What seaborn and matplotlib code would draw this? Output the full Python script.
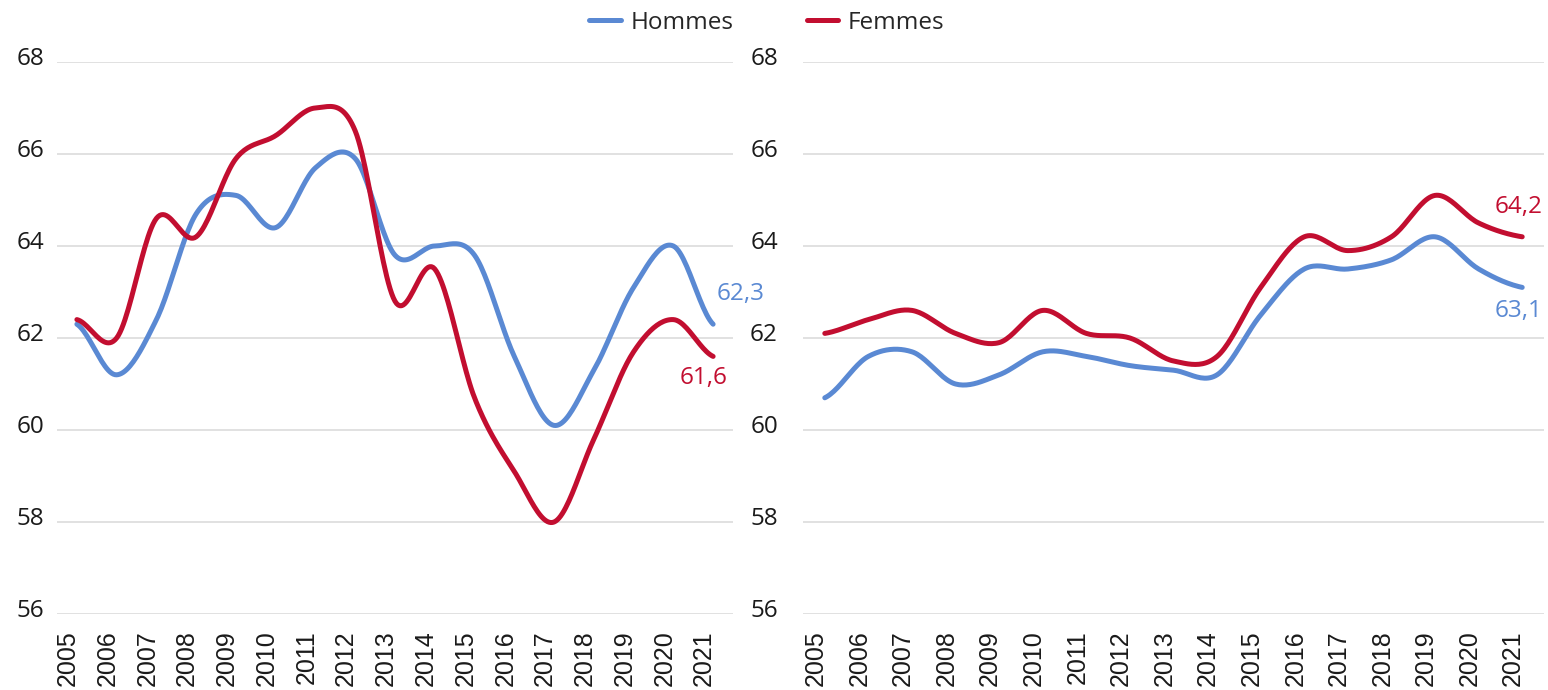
import numpy as np
import pandas as pd
import matplotlib
matplotlib.use("Agg")
import matplotlib.pyplot as plt
import matplotlib.transforms as mtransforms
from matplotlib.lines import Line2D
import seaborn as sns

# ----------------------------------------------------------------------
# Data
# ----------------------------------------------------------------------
years = list(range(2005, 2022))

hommes_left = [62.3, 61.2, 62.4, 64.7, 65.1, 64.4, 65.7, 65.9, 63.8, 64.0,
               63.8, 61.6, 60.1, 61.3, 63.1, 64.0, 62.3]
femmes_left = [62.4, 62.0, 64.6, 64.2, 65.9, 66.4, 67.0, 66.5, 62.8, 63.5,
               60.7, 59.1, 58.0, 59.8, 61.7, 62.4, 61.6]

hommes_right = [60.7, 61.6, 61.7, 61.0, 61.2, 61.7, 61.6, 61.4, 61.3, 61.2,
                62.5, 63.5, 63.5, 63.7, 64.2, 63.5, 63.1]
femmes_right = [62.1, 62.4, 62.6, 62.1, 61.9, 62.6, 62.1, 62.0, 61.5, 61.6,
                63.1, 64.2, 63.9, 64.2, 65.1, 64.5, 64.2]

series_names = ["Hommes", "Femmes"]
y_ticks = [56, 58, 60, 62, 64, 66, 68]

BLUE = "#5A89D3"
RED = "#C20E30"
palette = {"Hommes": BLUE, "Femmes": RED}
PX = 72 / 100  # points per pixel at dpi 100


def smooth(xs, ys, n=24):
    """Excel-like smoothed line (cubic Hermite / Catmull-Rom) for drawing."""
    xs = np.asarray(xs, float)
    ys = np.asarray(ys, float)
    m = np.empty_like(ys)
    m[1:-1] = (ys[2:] - ys[:-2]) / 2
    m[0] = (ys[1] - ys[0]) / 2
    m[-1] = (ys[-1] - ys[-2]) / 2
    out_x, out_y = [], []
    for i in range(len(xs) - 1):
        t = np.linspace(0, 1, n, endpoint=False)
        h00 = 2 * t**3 - 3 * t**2 + 1
        h10 = t**3 - 2 * t**2 + t
        h01 = -2 * t**3 + 3 * t**2
        h11 = t**3 - t**2
        out_y.extend(h00 * ys[i] + h10 * m[i] + h01 * ys[i + 1] + h11 * m[i + 1])
        out_x.extend(xs[i] + t * (xs[i + 1] - xs[i]))
    out_x.append(xs[-1])
    out_y.append(ys[-1])
    return out_x, out_y


def panel_frame(hommes, femmes):
    rows = []
    for name, vals in zip(series_names, [hommes, femmes]):
        sx, sy = smooth(years, vals)
        rows.append(pd.DataFrame({"year": sx, "value": sy, "serie": name}))
    return pd.concat(rows, ignore_index=True)


sns.set_style("white")
plt.rcParams["font.family"] = ["Open Sans", "DejaVu Sans"]

fig = plt.figure(figsize=(15.48, 6.9), dpi=100)
ax_l = fig.add_axes([57 / 1548, 76 / 690, 676 / 1548, 552 / 690])
ax_r = fig.add_axes([803 / 1548, 76 / 690, 741 / 1548, 552 / 690])

panels = [
    (ax_l, hommes_left, femmes_left, 13,
     {"Hommes": (28, 30), "Femmes": (-10, -22)}),
    (ax_r, hommes_right, femmes_right, 25,
     {"Hommes": (-4, -24), "Femmes": (-4, 30)}),
]

for ax, hom, fem, ypad, offsets in panels:
    df = panel_frame(hom, fem)
    sns.lineplot(data=df, x="year", y="value", hue="serie", palette=palette,
                 sort=False, estimator=None, linewidth=3.6, legend=False, ax=ax)
    for line in ax.get_lines():
        line.set_solid_capstyle("round")
        line.set_clip_on(False)

    ax.set_xlim(2004.5, 2021.5)
    ax.set_ylim(56, 68)
    ax.set_yticks(y_ticks)
    ax.set_yticklabels([str(v) for v in y_ticks])
    ax.set_xticks(years)
    ax.set_xticklabels([str(y) for y in years], rotation=90,
                       fontfamily="Liberation Sans", fontsize=18, color="#1a1a1a")
    ax.set_xlabel("")
    ax.set_ylabel("")
    ax.tick_params(axis="both", length=0)
    ax.tick_params(axis="y", labelsize=17.5, labelcolor="#1a1a1a", pad=ypad * PX)
    ax.tick_params(axis="x", pad=16 * PX)
    ax.yaxis.grid(True, color="#D9D9D9", linewidth=1.1)
    ax.xaxis.grid(False)
    ax.set_axisbelow(True)
    for s in ax.spines.values():
        s.set_visible(False)

    # small shifts to mimic the source label placement
    up = mtransforms.ScaledTranslation(0, 6 / 100, fig.dpi_scale_trans)
    for lab in ax.get_yticklabels():
        lab.set_transform(lab.get_transform() + up)
    left = mtransforms.ScaledTranslation(-9 / 100, 0, fig.dpi_scale_trans)
    for lab in ax.get_xticklabels():
        lab.set_transform(lab.get_transform() + left)

    # end-of-line value labels
    for name, vals in zip(series_names, [hom, fem]):
        txt = f"{vals[-1]:.1f}".replace(".", ",")
        ax.annotate(txt, xy=(years[-1], vals[-1]), xytext=offsets[name],
                    textcoords="offset pixels", ha="center", va="center",
                    fontsize=17.5, color=palette[name], annotation_clip=False)

handles = [Line2D([0], [0], color=palette[n], lw=3.6, solid_capstyle="round")
           for n in series_names]
fig.legend(handles, series_names, loc="center", bbox_to_anchor=(0.4955, 0.967),
           ncol=2, frameon=False, fontsize=17.5,
           handlelength=1.3, handletextpad=0.4, columnspacing=3.0, borderpad=0)

plt.savefig("out.png", dpi=100)
